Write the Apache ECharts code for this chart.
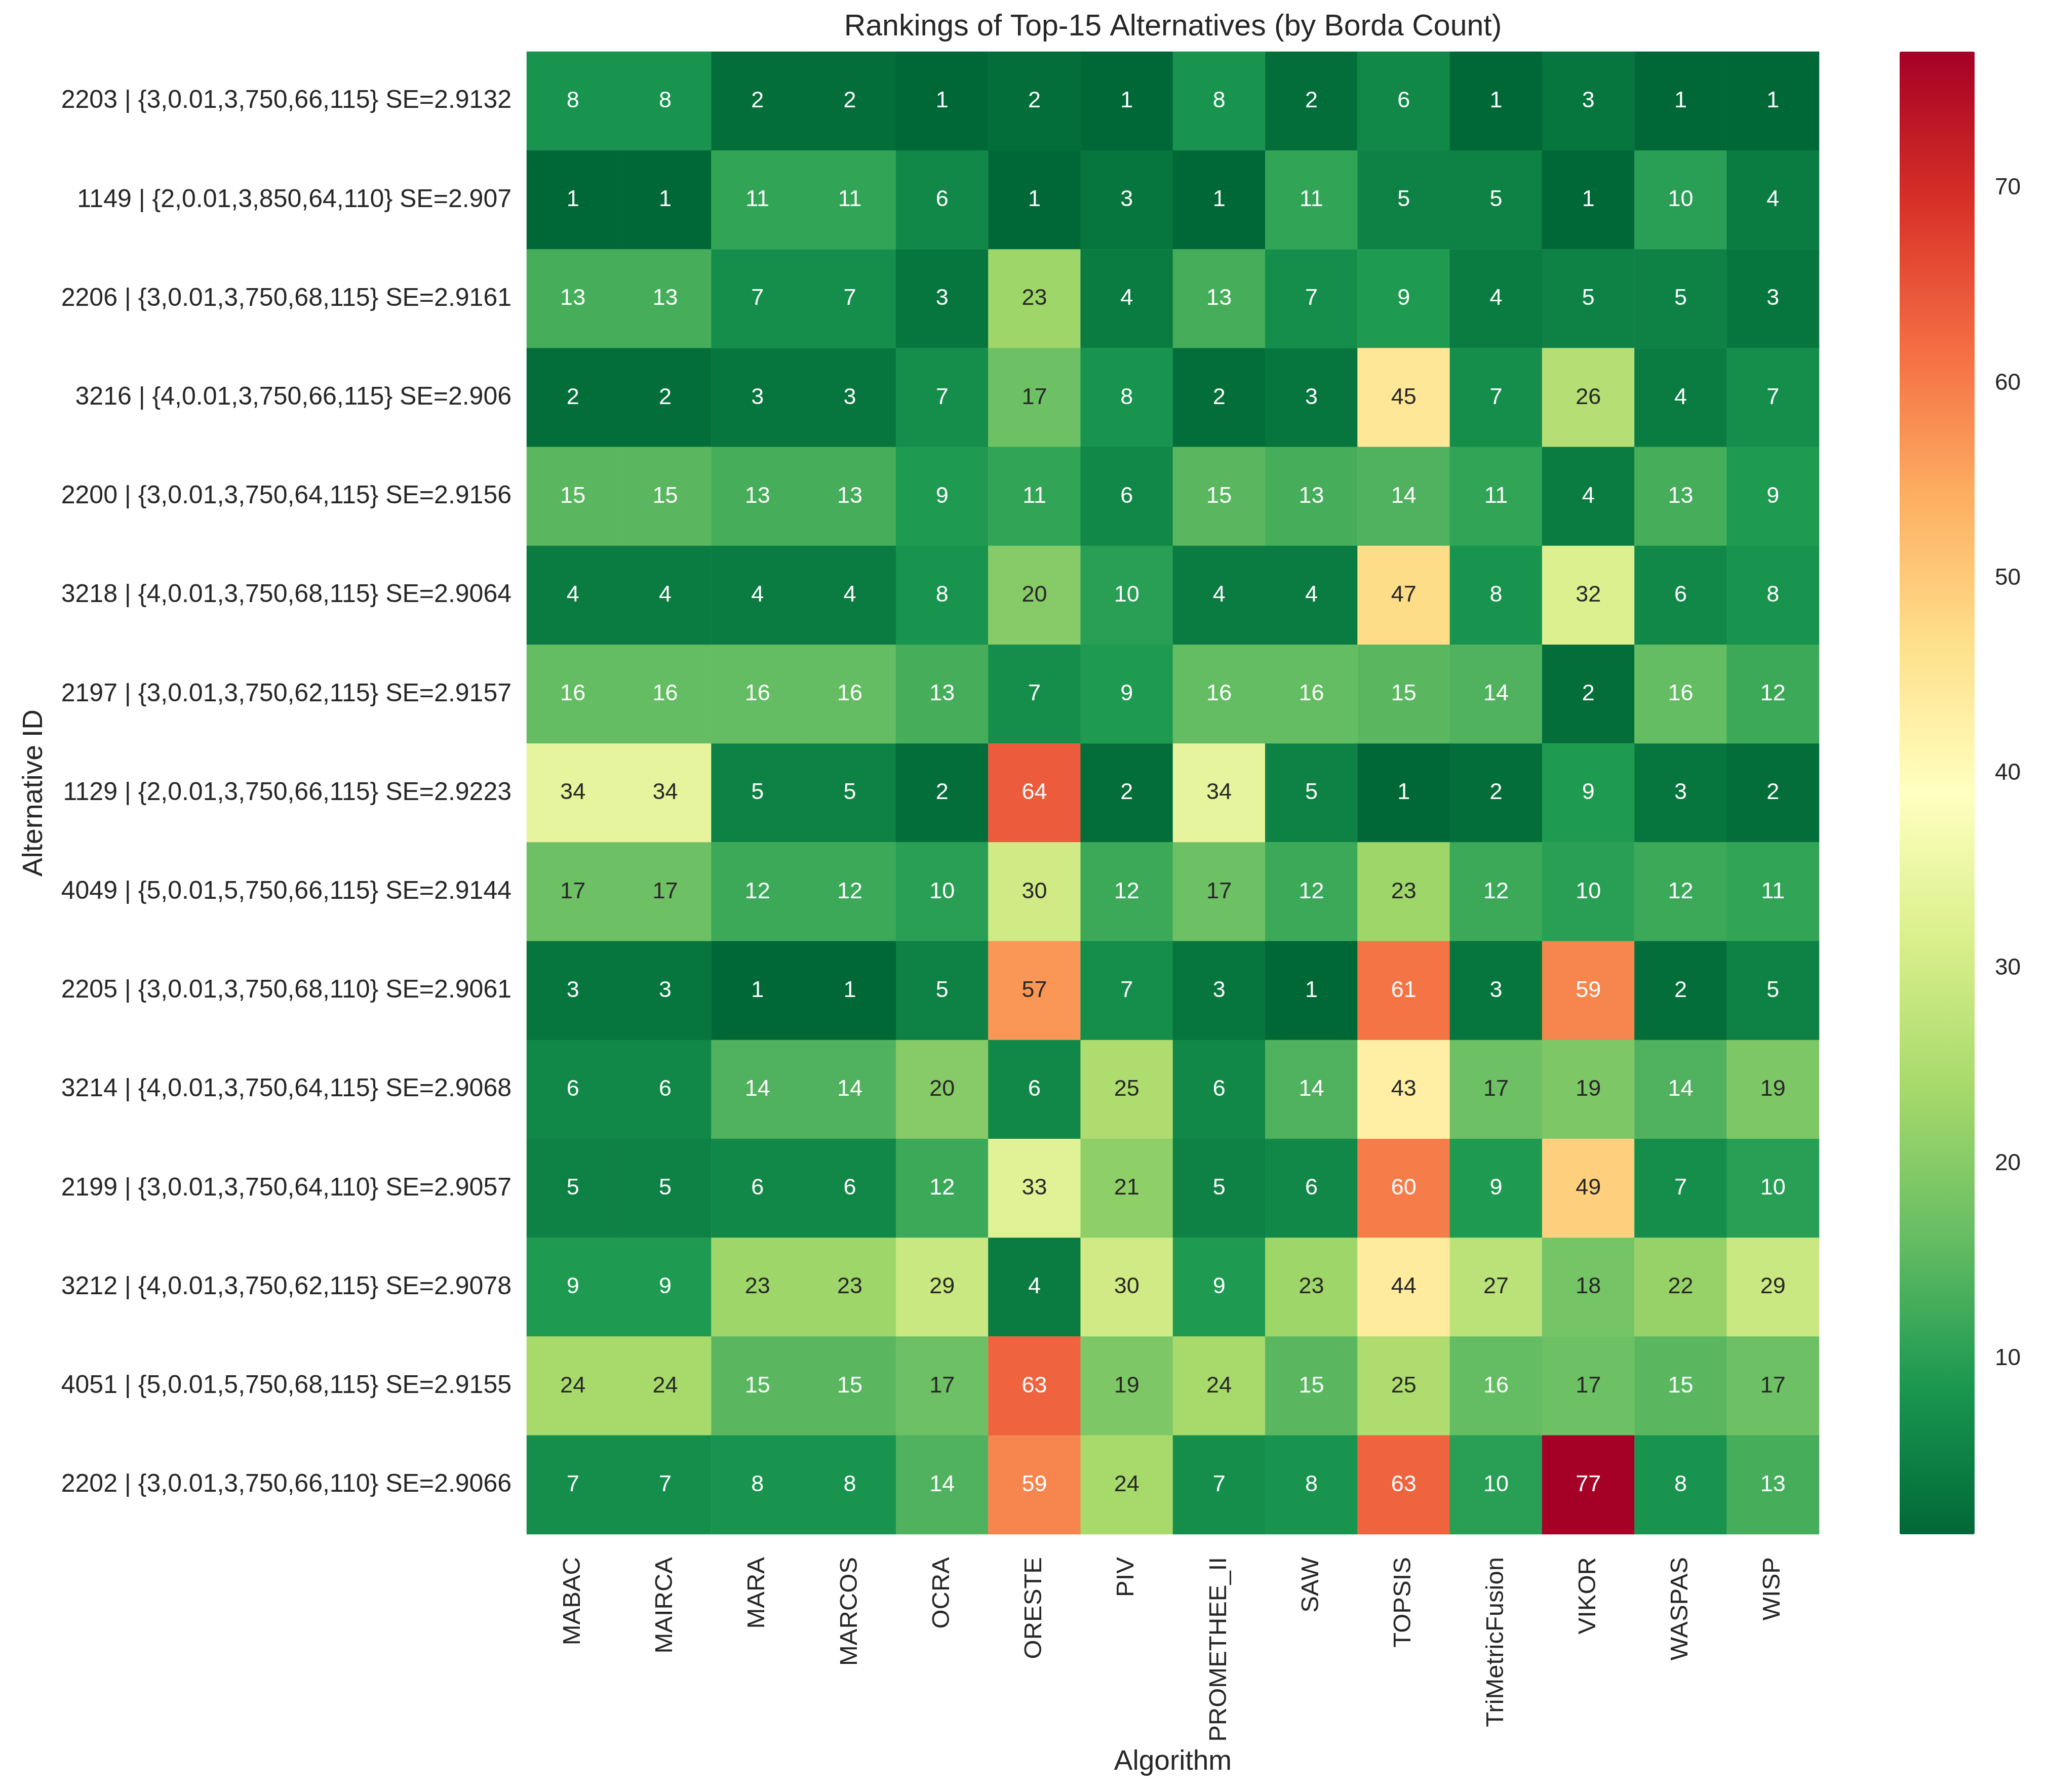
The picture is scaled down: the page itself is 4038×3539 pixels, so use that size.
<!DOCTYPE html>
<html>
<head>
<meta charset="utf-8">
<title>Rankings of Top-15 Alternatives (by Borda Count)</title>
<script src="https://cdn.jsdelivr.net/npm/echarts@6/dist/echarts.min.js"></script>
<style>
    html, body { margin: 0; padding: 0; background: #ffffff; }
    #chart { width: 4038px; height: 3539px; }
</style>
</head>
<body>
<div id="chart"></div>
<script>
// columns of the heatmap
var algorithms = ['MABAC', 'MAIRCA', 'MARA', 'MARCOS', 'OCRA', 'ORESTE', 'PIV',
    'PROMETHEE_II', 'SAW', 'TOPSIS', 'TriMetricFusion', 'VIKOR', 'WASPAS', 'WISP'];

// rows, top to bottom
var alternatives = [
    '2203 | {3,0.01,3,750,66,115} SE=2.9132',
    '1149 | {2,0.01,3,850,64,110} SE=2.907',
    '2206 | {3,0.01,3,750,68,115} SE=2.9161',
    '3216 | {4,0.01,3,750,66,115} SE=2.906',
    '2200 | {3,0.01,3,750,64,115} SE=2.9156',
    '3218 | {4,0.01,3,750,68,115} SE=2.9064',
    '2197 | {3,0.01,3,750,62,115} SE=2.9157',
    '1129 | {2,0.01,3,750,66,115} SE=2.9223',
    '4049 | {5,0.01,5,750,66,115} SE=2.9144',
    '2205 | {3,0.01,3,750,68,110} SE=2.9061',
    '3214 | {4,0.01,3,750,64,115} SE=2.9068',
    '2199 | {3,0.01,3,750,64,110} SE=2.9057',
    '3212 | {4,0.01,3,750,62,115} SE=2.9078',
    '4051 | {5,0.01,5,750,68,115} SE=2.9155',
    '2202 | {3,0.01,3,750,66,110} SE=2.9066'
];

// rank of each alternative under each algorithm (same order as above)
var ranks = [
    [8, 8, 2, 2, 1, 2, 1, 8, 2, 6, 1, 3, 1, 1],
    [1, 1, 11, 11, 6, 1, 3, 1, 11, 5, 5, 1, 10, 4],
    [13, 13, 7, 7, 3, 23, 4, 13, 7, 9, 4, 5, 5, 3],
    [2, 2, 3, 3, 7, 17, 8, 2, 3, 45, 7, 26, 4, 7],
    [15, 15, 13, 13, 9, 11, 6, 15, 13, 14, 11, 4, 13, 9],
    [4, 4, 4, 4, 8, 20, 10, 4, 4, 47, 8, 32, 6, 8],
    [16, 16, 16, 16, 13, 7, 9, 16, 16, 15, 14, 2, 16, 12],
    [34, 34, 5, 5, 2, 64, 2, 34, 5, 1, 2, 9, 3, 2],
    [17, 17, 12, 12, 10, 30, 12, 17, 12, 23, 12, 10, 12, 11],
    [3, 3, 1, 1, 5, 57, 7, 3, 1, 61, 3, 59, 2, 5],
    [6, 6, 14, 14, 20, 6, 25, 6, 14, 43, 17, 19, 14, 19],
    [5, 5, 6, 6, 12, 33, 21, 5, 6, 60, 9, 49, 7, 10],
    [9, 9, 23, 23, 29, 4, 30, 9, 23, 44, 27, 18, 22, 29],
    [24, 24, 15, 15, 17, 63, 19, 24, 15, 25, 16, 17, 15, 17],
    [7, 7, 8, 8, 14, 59, 24, 7, 8, 63, 10, 77, 8, 13]
];

var rankMin = 1;
var rankMax = 77;
var cbarTicks = [10, 20, 30, 40, 50, 60, 70];

// RdYlGn reversed (green = good rank)
var palette = ['#006837', '#1a9850', '#66bd63', '#a6d96a', '#d9ef8b', '#ffffbf',
    '#fee08b', '#fdae61', '#f46d43', '#d73027', '#a50026'];

var FONT = '"Liberation Sans", Arial, Helvetica, sans-serif';
var INK = '#262626';

function hexRgb(h) {
    return [parseInt(h.substr(1, 2), 16), parseInt(h.substr(3, 2), 16), parseInt(h.substr(5, 2), 16)];
}

// same linear interpolation visualMap does, only used to pick the text colour
function cellRgb(v) {
    var t = (v - rankMin) / (rankMax - rankMin) * (palette.length - 1);
    var i = Math.min(Math.floor(t), palette.length - 2);
    var f = t - i;
    var a = hexRgb(palette[i]), b = hexRgb(palette[i + 1]);
    return [a[0] + (b[0] - a[0]) * f, a[1] + (b[1] - a[1]) * f, a[2] + (b[2] - a[2]) * f];
}

function luminance(rgb) {
    var c = rgb.map(function (x) {
        x = x / 255;
        return x <= 0.03928 ? x / 12.92 : Math.pow((x + 0.055) / 1.055, 2.4);
    });
    return 0.2126 * c[0] + 0.7152 * c[1] + 0.0722 * c[2];
}

var cells = [];
for (var r = 0; r < alternatives.length; r++) {
    for (var c = 0; c < algorithms.length; c++) {
        cells.push([c, r, ranks[r][c]]);
    }
}

var chart = echarts.init(document.getElementById('chart'));

var option = {
    animation: false,
    backgroundColor: '#ffffff',
    textStyle: { fontFamily: FONT },
    graphic: [{
        type: 'text',
        x: 2316,
        y: 54,
        style: {
            text: 'Rankings of Top-15 Alternatives (by Borda Count)',
            font: '59px ' + FONT,
            fill: INK,
            align: 'center',
            verticalAlign: 'middle',
            textAlign: 'center',
            textVerticalAlign: 'middle'
        }
    }],
    grid: [
        { left: 1040, top: 102, width: 2552, height: 2928 },
        // only carries the colour bar tick labels
        { left: 3751, top: 102, width: 148, height: 2928 }
    ],
    xAxis: [{
        type: 'category',
        gridIndex: 0,
        data: algorithms,
        position: 'bottom',
        axisLine: { show: false },
        axisTick: { show: false },
        splitLine: { show: false },
        axisLabel: {
            interval: 0,
            rotate: 90,
            margin: 45,
            fontSize: 49,
            color: INK,
            fontFamily: FONT
        },
        name: 'Algorithm',
        nameLocation: 'middle',
        nameGap: 422,
        nameTextStyle: { fontSize: 55, color: INK, fontFamily: FONT }
    }, {
        type: 'value',
        gridIndex: 1,
        show: false
    }],
    yAxis: [{
        type: 'category',
        gridIndex: 0,
        data: alternatives,
        inverse: true,
        axisLine: { show: false },
        axisTick: { show: false },
        splitLine: { show: false },
        axisLabel: {
            interval: 0,
            margin: 30,
            fontSize: 50,
            color: INK,
            fontFamily: FONT
        },
        name: 'Alternative ID',
        nameLocation: 'middle',
        nameRotate: 90,
        nameGap: 945,
        nameTextStyle: { fontSize: 55, color: INK, fontFamily: FONT }
    }, {
        type: 'value',
        gridIndex: 1,
        position: 'right',
        min: rankMin,
        max: rankMax,
        axisLine: { show: false },
        axisTick: { show: false },
        splitLine: { show: false },
        axisLabel: {
            customValues: cbarTicks,
            margin: 40,
            fontSize: 46,
            color: INK,
            fontFamily: FONT
        }
    }],
    visualMap: {
        type: 'continuous',
        seriesIndex: 0,
        min: rankMin,
        max: rankMax,
        calculable: false,
        orient: 'vertical',
        left: 3751,
        top: 102,
        padding: 0,
        itemWidth: 148,
        itemHeight: 2928,
        inRange: { color: palette }
    },
    series: [{
        type: 'heatmap',
        xAxisIndex: 0,
        yAxisIndex: 0,
        data: cells,
        label: {
            show: true,
            fontSize: 45,
            fontFamily: FONT,
            color: '#ffffff',
            textBorderWidth: 0,
            // white on dark cells, dark grey on light ones
            formatter: function (p) {
                var v = p.value[2];
                return (luminance(cellRgb(v)) > 0.408 ? '{d|' : '{w|') + v + '}';
            },
            rich: {
                w: { color: '#ffffff', fontSize: 45, fontFamily: FONT },
                d: { color: INK, fontSize: 45, fontFamily: FONT }
            }
        },
        emphasis: { disabled: true }
    }]
};

chart.setOption(option);
</script>
</body>
</html>
